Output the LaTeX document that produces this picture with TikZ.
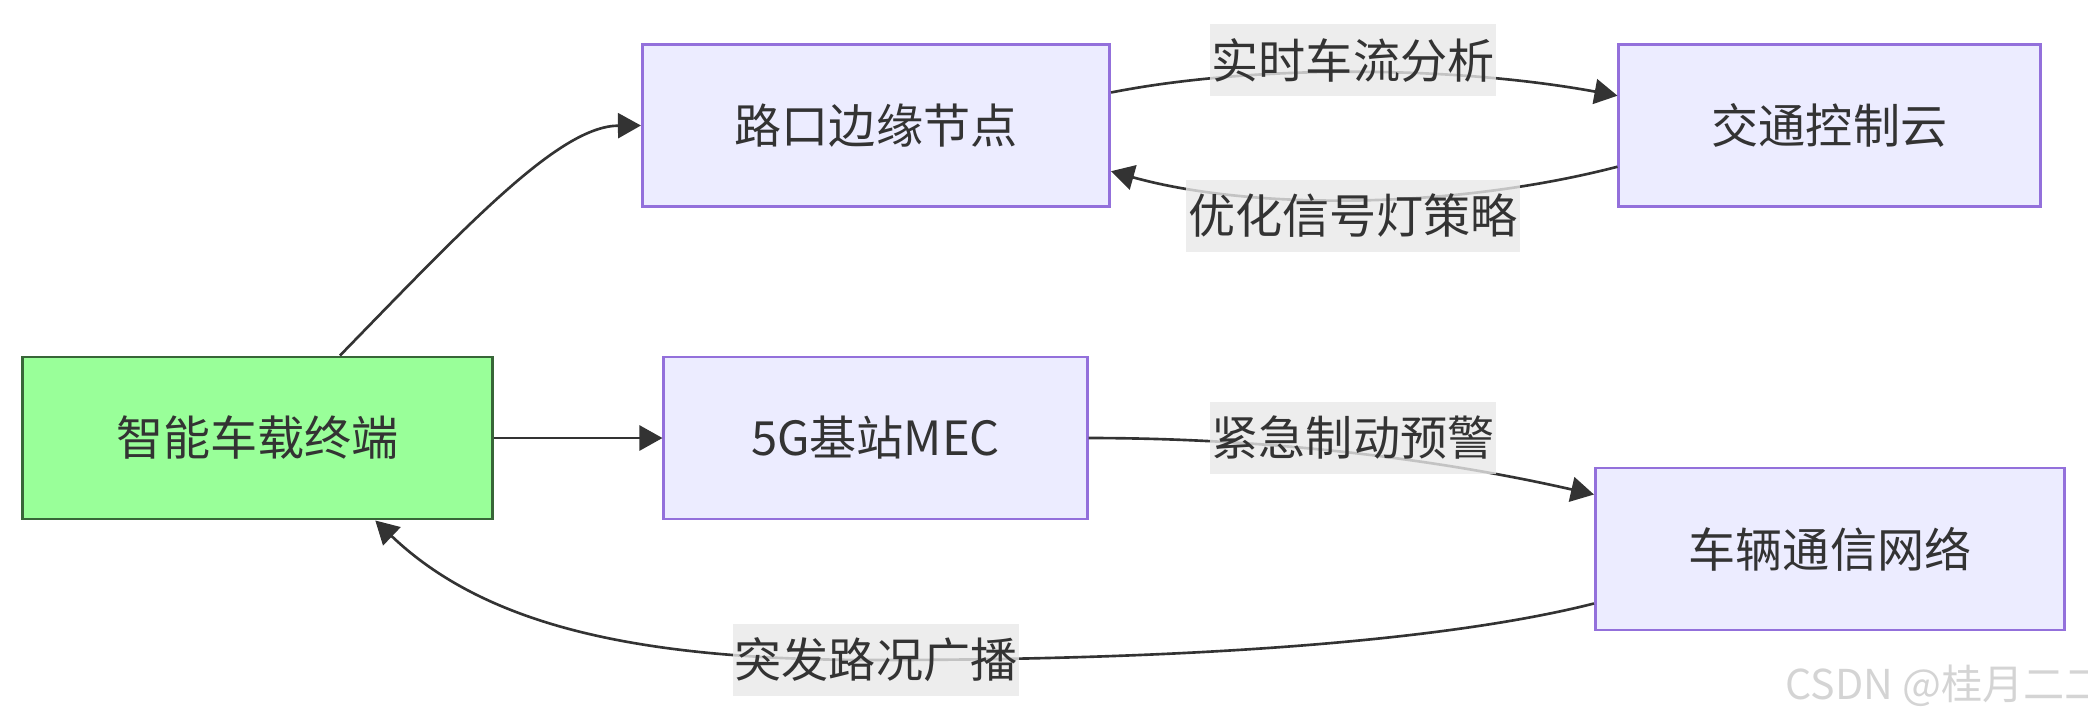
\documentclass[tikz,border=0pt]{standalone}
\usepackage{fontspec}
\setmainfont{Noto Sans CJK SC}
\usetikzlibrary{arrows.meta}
\definecolor{mmpurple}{RGB}{147,112,219}
\definecolor{mmfill}{RGB}{236,236,255}
\definecolor{mmgreen}{RGB}{153,255,153}
\definecolor{mmgreenline}{RGB}{56,102,56}
\definecolor{mmtext}{RGB}{51,51,51}
\definecolor{mmlabel}{RGB}{232,232,232}
\definecolor{wmark}{RGB}{212,212,212}

\begin{document}
\begin{tikzpicture}[x=0.01cm,y=-0.01cm]

%
% Styles
%
\tikzstyle{block} = [rectangle,draw=mmpurple,fill=mmfill,line width=0.8pt,minimum height=1.62cm,text=mmtext,font=\fontsize{13.4}{16}\selectfont]
\tikzstyle{device} = [block,draw=mmgreenline,fill=mmgreen]
\tikzstyle{tag} = [rectangle,fill=mmlabel,fill opacity=0.8,text opacity=1,text=mmtext,inner xsep=0.02cm,inner ysep=0pt,minimum height=0.72cm,font=\fontsize{13.4}{16}\selectfont]
\tikzstyle{link} = [draw=mmtext,line width=0.75pt,-{Triangle[length=0.23cm,width=0.25cm]}]

\useasboundingbox (0,0) rectangle (2088,720);

\node[device,minimum width=4.69cm] (obu) at (257.5,438) {智能车载终端};
\node[block,minimum width=4.67cm] (rsu) at (876,125.5) {路口边缘节点};
\node[block,minimum width=4.21cm] (tcc) at (1829.5,125.5) {交通控制云};
\node[block,minimum width=4.23cm] (mec) at (875.5,438) {5G基站MEC};
\node[block,minimum width=4.69cm] (v2x) at (1830,549) {车辆通信网络};

\draw[link] (obu.45) .. controls (470,222) and (560,126) .. (rsu.west);
\draw[link] (rsu.8) .. controls (1250,65) and (1450,65) .. (tcc.172);
\draw[link] (tcc.191) .. controls (1450,210) and (1250,210) .. (rsu.-11);
\draw[link] (obu) -- (mec);
\draw[link] (mec.east) .. controls (1250,438) and (1420,455) .. (v2x.167);
\draw[link] (v2x.193) .. controls (1450,640) and (1200,660) .. (876,660)
  .. controls (650,660) and (490,630) .. (obu.-35);

\node[tag] (ta) at (1353,60) {实时车流分析};
\node[tag] (tb) at (1353,216) {优化信号灯策略};
\node[tag] (tc) at (1353,438) {紧急制动预警};
\node[tag] (td) at (876,660) {突发路况广播};

\node[anchor=west,text=wmark,font=\fontsize{11.7}{14}\selectfont] (csdn) at (1773,686) {CSDN @桂月二二};

\end{tikzpicture}
\end{document}
